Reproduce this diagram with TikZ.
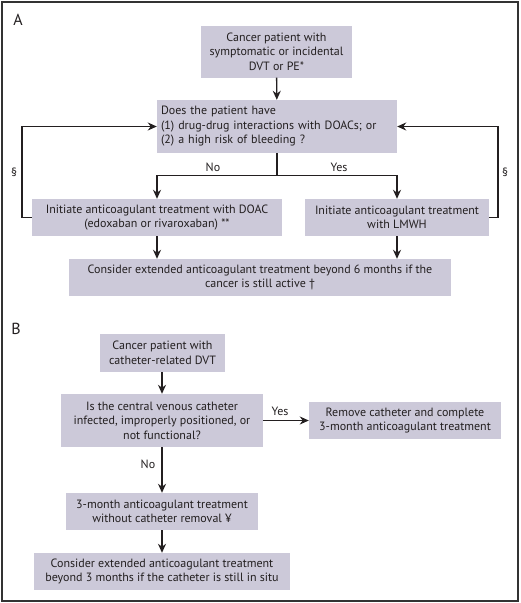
\documentclass[tikz,border=0pt]{standalone}
\usepackage{fontspec}
\setmainfont{PT Sans}
\usetikzlibrary{arrows.meta}
\definecolor{boxfill}{RGB}{204,201,217}
\definecolor{ink}{RGB}{35,31,32}
\definecolor{frame}{RGB}{51,51,51}
\tikzset{
  fbox/.style={fill=boxfill, draw=none, inner sep=0pt, align=center, text=ink,
    font=\fontsize{12}{14.5}\selectfont},
  conn/.style={draw=ink, line width=1.4pt, -{Stealth[length=9pt,width=8pt]}},
  plain/.style={draw=ink, line width=1.4pt},
  lbl/.style={text=ink, inner sep=0pt, font=\fontsize{12}{13}\selectfont},
  panel/.style={text=ink, inner sep=0pt, font=\fontsize{16}{18}\selectfont}
}
\begin{document}
\begin{tikzpicture}[x=1pt,y=-1pt]
\useasboundingbox (0,0) rectangle (520,603);
\draw[frame, line width=2pt] (1.5,1.5) rectangle (517.5,601);
% Panel A
\node[panel] (la) at (18,20) {A};
\node[fbox, minimum width=151pt, minimum height=52pt] (a1) at (276.5,51.5)
  {Cancer patient with\\ symptomatic or incidental\\ DVT or PE*};
\node[fbox, minimum width=240pt, minimum height=53pt, text width=232pt, align=left] (a2) at (277,126.5)
  {Does the patient have\\ (1) drug-drug interactions with DOACs; or\\ (2) a high risk of bleeding ?};
\node[fbox, minimum width=250pt, minimum height=37pt] (a3) at (157,217.5)
  {Initiate anticoagulant treatment with DOAC\\ (edoxaban or rivaroxaban) **};
\node[fbox, minimum width=184pt, minimum height=37pt] (a4) at (397,217.5)
  {Initiate anticoagulant treatment\\ with LMWH};
\node[fbox, minimum width=382pt, minimum height=37pt] (a5) at (260,277.5)
  {Consider extended anticoagulant treatment beyond 6 months if the\\ cancer is still active †};
\coordinate (split) at (277,175.7);
\coordinate (lturn) at (22,217.5);
\coordinate (rturn) at (498,217.5);
\draw[conn] (a1) -- (a2);
\draw[plain] (a2.south) -- (split);
\draw[conn] (split) -| (a3.north);
\draw[conn] (split) -| (a4.north);
\draw[conn] (a3.south) -- (a3.south |- a5.north);
\draw[conn] (a4.south) -- (a4.south |- a5.north);
\draw[conn] (a3.west) -- (lturn) |- (a2.west);
\draw[conn] (a4.east) -- (rturn) |- (a2.east);
\node[lbl] (no1) at (213,167) {No};
\node[lbl] (yes1) at (339,167) {Yes};
\node[lbl] (s1) at (14,172) {§};
\node[lbl] (s2) at (505,172) {§};
% Panel B
\node[panel] (lb) at (16,329) {B};
\node[fbox, minimum width=125pt, minimum height=38pt] (b1) at (162.5,353)
  {Cancer patient with\\ catheter-related DVT};
\node[fbox, minimum width=202pt, minimum height=53pt] (b2) at (162,420.5)
  {Is the central venous catheter\\ infected, improperly positioned, or\\ not functional?};
\node[fbox, minimum width=192pt, minimum height=37pt] (b3) at (405,420.5)
  {Remove catheter and complete\\ 3-month anticoagulant treatment};
\node[fbox, minimum width=192pt, minimum height=37pt] (b4) at (162,511.5)
  {3-month anticoagulant treatment\\ without catheter removal ¥};
\node[fbox, minimum width=256pt, minimum height=37pt] (b5) at (162,571.5)
  {Consider extended anticoagulant treatment\\ beyond 3 months if the catheter is still in situ};
\draw[conn] (b1.south -| b2.north) -- (b2.north);
\draw[conn] (b2.east) -- (b3.west);
\draw[conn] (b2) -- (b4);
\draw[conn] (b4) -- (b5);
\node[lbl] (yes2) at (280,411) {Yes};
\node[lbl] (no2) at (148,464) {No};
\end{tikzpicture}
\end{document}
